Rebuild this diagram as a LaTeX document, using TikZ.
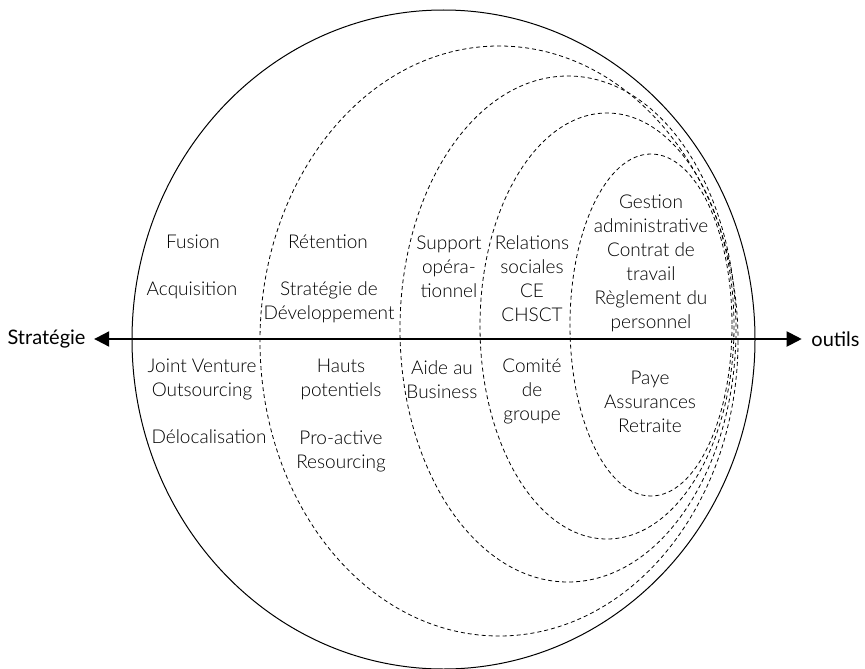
\documentclass[tikz,border=0pt]{standalone}
\usepackage{fontspec}
\setmainfont{Lato Light}
\newfontfamily\axisfont{Lato}
\usetikzlibrary{arrows.meta}
\tikzset{
  lbl/.style={align=center, inner sep=0pt, font=\fontsize{19}{24}\selectfont},
  axlbl/.style={inner sep=0pt, font=\axisfont\fontsize{20}{24}\selectfont},
  zone/.style={line width=0.8pt, dash pattern=on 4pt off 3pt},
  outer/.style={line width=1pt},
  axis/.style={line width=2pt, {Triangle[length=15pt,width=15pt]}-{Triangle[length=15pt,width=15pt]}}
}
\begin{document}
\begin{tikzpicture}[x=1pt,y=-1pt]
\useasboundingbox (0,0) rectangle (865,669);
% outer circle and nested zones
\draw[outer] (443.5,339.5) ellipse [x radius=311.5, y radius=329.5];
\draw[zone] (499,341) ellipse [x radius=239, y radius=295];
\draw[zone] (568,329) ellipse [x radius=168, y radius=253];
\draw[zone] (607,326) ellipse [x radius=127, y radius=213];
\draw[zone] (651,325) ellipse [x radius=81, y radius=171];
% axis
\node[axlbl] (strat) at (46.5,339) {Stratégie};
\node[axlbl] (outils) at (835.5,339) {outils};
\draw[axis, shorten <=8.5pt, shorten >=9.5pt] (strat.east) -- (outils.west);
% labels
\node[lbl] (fusion) at (193,242) {Fusion};
\node[lbl] (acq) at (192,290) {Acquisition};
\node[lbl] (jv) at (202,379.5) {Joint Venture\\Outsourcing};
\node[lbl] (deloc) at (209,437) {Délocalisation};
\node[lbl] (ret) at (328,242) {Rétention};
\node[lbl] (sdev) at (329,302.5) {Stratégie de\\Développement};
\node[lbl] (hauts) at (341,379.5) {Hauts\\potentiels};
\node[lbl] (proact) at (341,451) {Pro-active\\Resourcing};
\node[lbl] (supp) at (449,267) {Support\\opéra-\\tionnel};
\node[lbl] (aide) at (442,379.5) {Aide au\\Business};
\node[lbl] (rel) at (532,278.5) {Relations\\sociales\\CE\\CHSCT};
\node[lbl] (comite) at (532,391.5) {Comité\\de\\groupe};
\node[lbl] (gest) at (651,263.5) {Gestion\\administrative\\Contrat de\\travail\\Règlement du\\personnel};
\node[lbl] (paye) at (650,402) {Paye\\Assurances\\Retraite};
\end{tikzpicture}
\end{document}
